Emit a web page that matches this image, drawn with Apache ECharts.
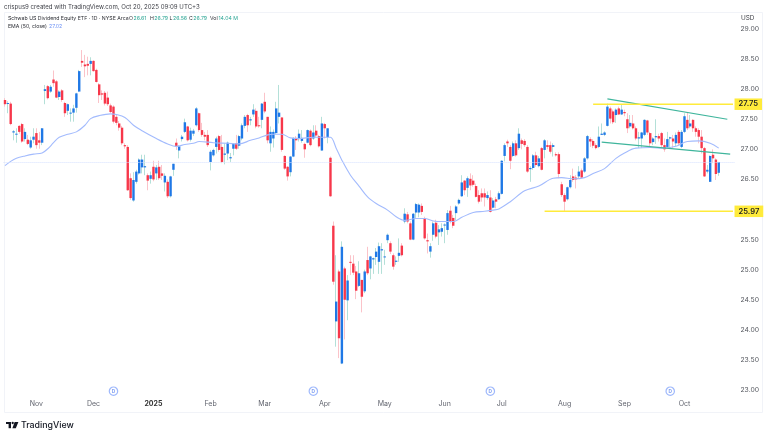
<!DOCTYPE html>
<html>
<head>
<meta charset="utf-8">
<title>Schwab US Dividend Equity ETF</title>
<style>html,body{margin:0;padding:0;background:#fff}#chart{width:768px;height:438px}</style>
<script src="https://cdn.jsdelivr.net/npm/echarts@6/dist/echarts.min.js"></script>
</head>
<body>
<div id="chart"></div>
<script>
// Daily bars, one row per session: [open, close, low, high]
const ohlc = [
[27.82,27.75,27.71,27.85],[27.76,27.77,27.60,27.80],[27.76,27.42,27.40,27.79],[27.28,27.30,27.15,27.32],[27.25,27.26,27.11,27.35],
[27.39,27.29,27.26,27.40],[27.42,27.13,27.11,27.44],[27.17,27.29,27.13,27.35],[27.16,27.09,27.07,27.24],[27.03,27.15,27.01,27.21],
[27.16,27.21,27.10,27.35],[27.27,27.07,27.01,27.35],[27.15,27.11,27.01,27.29],[27.11,27.35,27.07,27.35],[27.97,28.00,27.75,28.07],
[28.05,27.85,27.83,28.07],[27.96,28.04,27.94,28.07],[28.16,28.10,28.04,28.31],[28.13,27.86,27.85,28.15],[27.87,27.96,27.82,27.98],
[27.98,27.82,27.79,28.00],[27.77,27.60,27.54,27.79],[27.64,27.75,27.57,27.76],[27.60,27.61,27.46,27.68],[27.61,27.68,27.46,27.74],
[27.69,27.93,27.61,27.94],[27.96,28.30,27.96,28.32],[28.47,28.44,28.37,28.65],[28.41,28.38,28.20,28.57],[28.42,28.39,28.23,28.54],
[28.42,28.47,28.23,28.53],[28.47,28.30,28.29,28.48],[28.32,28.12,28.11,28.34],[28.08,27.90,27.77,28.10],[27.93,27.91,27.82,27.98],
[27.94,27.76,27.73,27.97],[27.86,27.75,27.72,27.96],[27.73,27.62,27.60,27.76],[27.71,27.46,27.43,27.73],[27.54,27.44,27.40,27.57],
[27.43,27.36,27.31,27.47],[27.36,27.10,27.07,27.39],[27.07,27.05,27.01,27.10],[27.04,26.32,26.31,27.07],[26.52,26.19,26.16,26.60],
[26.15,26.49,26.13,26.62],[26.46,26.63,26.43,26.66],[26.60,26.83,26.58,26.85],[26.70,26.83,26.60,26.91],[26.70,26.72,26.57,26.91],
[26.57,26.48,26.32,26.60],[26.51,26.57,26.43,26.63],[26.71,26.50,26.47,26.81],[26.60,26.70,26.49,26.74],[26.71,26.52,26.49,26.81],
[26.60,26.56,26.49,26.74],[26.45,26.56,26.30,26.60],[26.46,26.22,26.19,26.50],[26.22,26.55,26.20,26.56],[26.66,26.76,26.56,26.76],
[27.11,27.05,26.99,27.18],[26.98,27.05,26.85,27.07],[27.17,27.21,27.13,27.24],[27.29,27.45,27.27,27.51],[27.38,27.15,27.13,27.39],
[27.16,27.31,27.13,27.36],[27.26,27.31,27.22,27.34],[27.40,27.68,27.38,27.70],[27.60,27.32,27.29,27.61],[27.32,27.24,27.21,27.44],
[27.24,27.21,27.15,27.29],[27.24,27.07,27.04,27.32],[26.79,26.96,26.65,26.99],[26.90,26.99,26.88,27.01],[27.04,27.18,26.93,27.21],
[27.22,26.99,26.96,27.24],[27.04,26.79,26.77,27.24],[26.91,26.93,26.75,27.10],[26.93,27.11,26.82,27.13],[26.85,26.87,26.79,26.94],
[27.01,27.09,26.90,27.10],[27.10,27.01,26.99,27.24],[27.06,27.22,27.01,27.24],[27.18,27.40,27.15,27.43],[27.39,27.54,27.35,27.57],
[27.57,27.40,27.29,27.59],[27.48,27.50,27.40,27.54],[27.58,27.66,27.54,27.75],[27.64,27.38,27.35,27.68],[27.40,27.39,27.36,27.54],
[27.49,27.76,27.35,27.77],[27.79,27.63,27.60,27.94],[27.54,27.15,27.10,27.54],[27.10,27.29,26.96,27.38],[27.18,27.29,27.03,27.33],
[27.27,27.68,27.25,27.79],[27.54,27.61,27.43,28.07],[27.53,26.99,26.96,27.53],[26.89,26.68,26.66,26.90],[26.71,26.55,26.48,26.72],
[26.62,26.88,26.55,26.89],[26.88,27.19,26.87,27.20],[27.19,27.15,26.99,27.22],[27.17,27.26,27.13,27.33],[27.14,27.19,27.11,27.32],
[27.09,27.00,26.86,27.11],[27.11,27.32,27.10,27.33],[27.31,27.07,27.05,27.33],[27.18,27.28,27.16,27.40],[27.31,27.23,27.20,27.40],
[27.22,27.05,27.03,27.24],[26.98,27.43,26.98,27.54],[27.42,27.35,27.18,27.44],[27.20,27.35,27.10,27.35],[26.86,26.22,26.21,26.88],
[25.73,24.80,24.75,25.80],[24.14,24.47,23.72,25.24],[24.97,23.86,23.53,25.00],[23.44,25.38,23.43,25.47],[25.02,24.50,23.84,25.05],
[24.49,24.82,24.16,24.91],[25.13,25.12,24.91,25.24],[25.10,24.95,24.91,25.24],[24.97,24.65,24.51,25.06],[24.73,24.94,24.71,25.14],
[24.83,24.55,24.29,24.83],[24.64,24.97,24.61,25.00],[25.16,24.94,24.91,25.38],[25.02,25.22,24.84,25.23],[25.17,25.19,24.93,25.20],
[25.21,25.30,25.08,25.36],[25.13,25.39,24.93,25.45],[25.32,25.34,24.93,25.44],[25.21,25.22,25.08,25.33],[25.49,25.58,25.44,25.60],
[25.44,25.30,25.26,25.47],[25.24,25.05,25.00,25.27],[25.13,25.15,25.08,25.22],[25.23,25.28,25.13,25.52],[25.40,25.24,25.22,25.44],
[25.80,25.93,25.77,26.02],[25.92,25.80,25.77,25.96],[25.77,25.50,25.49,25.80],[25.50,25.93,25.49,25.94],[25.95,26.09,25.85,26.11],
[25.95,26.08,25.87,26.10],[26.06,25.96,25.91,26.10],[25.85,25.52,25.50,25.88],[25.49,25.47,25.27,25.60],[25.30,25.39,25.20,25.44],
[25.58,25.77,25.48,25.80],[25.78,25.55,25.52,25.83],[25.62,25.67,25.41,25.74],[25.63,25.69,25.55,25.77],[25.74,25.75,25.44,25.77],
[25.66,25.94,25.58,25.99],[25.98,25.80,25.77,26.06],[25.86,25.73,25.69,25.91],[25.94,26.05,25.82,26.07],[26.10,26.16,26.08,26.18],
[26.22,26.45,26.21,26.57],[26.48,26.32,26.24,26.49],[26.36,26.52,26.21,26.55],[26.51,26.40,26.32,26.60],[26.48,26.41,26.38,26.57],
[26.39,26.21,26.20,26.43],[26.24,26.13,26.10,26.32],[26.27,26.20,26.13,26.35],[26.27,26.20,26.05,26.35],[26.19,26.24,26.16,26.30],
[26.20,25.96,25.95,26.32],[26.03,26.15,26.02,26.19],[26.17,26.13,26.02,26.21],[26.17,26.27,26.16,26.30],[26.26,26.81,26.25,26.82],
[26.89,27.07,26.80,27.10],[27.13,27.10,27.04,27.16],[27.04,26.81,26.67,27.07],[26.89,27.10,26.87,27.13],[27.10,26.90,26.88,27.15],
[27.02,27.26,26.99,27.35],[27.15,27.09,27.00,27.18],[27.14,27.07,27.04,27.17],[27.04,26.63,26.61,27.07],[26.67,26.69,26.46,26.72],
[26.69,26.90,26.66,26.92],[26.90,26.74,26.71,26.96],[26.72,26.85,26.70,26.89],[27.02,26.66,26.65,27.04],[26.99,27.15,26.85,27.17],
[27.07,27.04,27.00,27.15],[27.07,26.96,26.93,27.13],[27.04,27.07,26.88,27.10],[26.92,26.90,26.88,26.95],[26.92,26.59,26.52,26.95],
[26.42,26.24,26.21,26.46],[26.24,26.13,25.97,26.27],[26.17,26.37,26.15,26.38],[26.37,26.49,26.35,26.57],[26.55,26.49,26.46,26.68],
[26.53,26.50,26.35,26.57],[26.55,26.63,26.52,26.72],[26.65,26.53,26.52,26.68],[26.63,26.85,26.61,26.87],[26.85,27.22,26.83,27.24],
[27.17,27.13,27.04,27.20],[27.14,27.06,27.02,27.17],[27.07,27.02,27.00,27.10],[27.04,27.21,27.02,27.38],[27.24,27.26,27.24,27.43],
[27.24,27.28,27.22,27.30],[27.39,27.71,27.38,27.76],[27.68,27.51,27.43,27.71],[27.63,27.45,27.42,27.66],[27.57,27.66,27.44,27.68],
[27.68,27.58,27.57,27.71],[27.58,27.66,27.57,27.74],[27.62,27.60,27.55,27.66],[27.50,27.35,27.27,27.60],[27.38,27.44,27.35,27.57],
[27.43,27.35,27.33,27.57],[27.35,27.18,27.15,27.38],[27.18,27.20,27.02,27.29],[27.18,27.28,27.02,27.29],[27.24,27.49,27.22,27.50],
[27.48,27.28,27.24,27.49],[27.27,27.10,27.04,27.29],[27.12,27.18,27.07,27.20],[27.20,27.22,27.09,27.50],[27.22,27.18,27.13,27.26],
[27.27,27.07,27.04,27.29],[27.07,27.00,26.96,27.18],[27.04,27.17,27.02,27.29],[27.18,27.20,27.04,27.21],[27.18,27.13,27.02,27.24],
[27.10,27.24,27.05,27.28],[27.29,27.10,27.07,27.32],[27.04,27.29,27.02,27.32],[27.29,27.55,27.27,27.60],[27.49,27.35,27.32,27.61],
[27.38,27.43,27.35,27.57],[27.49,27.35,27.29,27.50],[27.35,27.29,27.21,27.38],[27.32,27.21,27.10,27.35],[27.21,27.02,26.93,27.32],
[27.02,26.55,26.54,27.04],[26.63,26.66,26.60,26.74],[26.46,26.89,26.46,26.90],[26.91,26.85,26.77,27.00],[26.83,26.59,26.49,26.85],
[26.61,26.79,26.56,26.79]
];

// Session slots on the time axis; the last few stay empty as right-hand margin
const sessionSlots = Array.from({length: 256}, (_, i) => String(i));
const monthStarts = [11, 31, 52, 72, 91, 112, 133, 154, 174, 196, 217, 238];
const monthLabels = ['Nov', 'Dec', '2025', 'Feb', 'Mar', 'Apr', 'May', 'Jun', 'Jul', 'Aug', 'Sep', 'Oct'];
const priceTicks = {min: 23, max: 29, step: 0.5};

// EMA(50) as [session, value]
const ema50 = [
[0,26.73],[2,26.80],[4,26.85],[7,26.89],[10,26.92],[13,26.94],[15,27.01],[17,27.11],[19,27.20],[22,27.25],
[25,27.29],[28,27.40],[30,27.51],[33,27.56],[37,27.59],[39,27.58],[42,27.53],[45,27.40],[48,27.31],[53,27.18],
[57,27.09],[60,27.05],[63,27.08],[66,27.10],[68,27.13],[73,27.11],[78,27.10],[82,27.09],[86,27.15],[89,27.19],
[92,27.24],[94,27.25],[97,27.25],[100,27.19],[103,27.18],[108,27.20],[112,27.20],[114,27.20],[116,27.02],[118,26.82],
[121,26.57],[124,26.39],[127,26.21],[130,26.10],[134,25.99],[137,25.88],[140,25.82],[144,25.85],[147,25.85],[150,25.81],
[153,25.80],[157,25.80],[160,25.87],[164,25.95],[168,25.97],[171,25.99],[173,26.01],[177,26.13],[182,26.31],[187,26.39],
[192,26.52],[195,26.53],[199,26.51],[203,26.53],[206,26.60],[210,26.68],[214,26.85],[217,26.94],[221,27.02],[226,27.03],
[231,27.02],[235,27.05],[239,27.13],[243,27.14],[247,27.10],[250,27.02]
];

// Hand-drawn studies on the chart
const channelUpper = [[211, 27.84], [253, 27.50]];
const channelLower = [[209, 27.12], [254, 26.92]];
const resistance = [[206, 27.75], [255, 27.75]];
const support = [[189, 25.97], [255, 25.97]];
const dividendSessions = [38, 108, 170, 233];

const quote = {open: '26.61', high: '26.79', low: '26.56', close: '26.79', vol: '14.04', emaNow: '27.02'};

const UI_FONT = 'Inter, Roboto, "Liberation Sans", sans-serif';
const UP = '#1f78e6', DOWN = '#f7374a', WICK_UP = '#b4e0d8', WICK_DOWN = '#fbc3c9';
const TEAL = '#2aa594', GOLD = '#ffeb3b', CHANNEL = '#3fb59c', EMA_BLUE = '#a3bbfd';
const BODY_WIDTH = 2.4;

function label(x, y, text, color, size) {
  return {type: 'text', x, y, silent: true,
    style: {text, fill: color, font: (size || 5.2) + 'px ' + UI_FONT, textVerticalAlign: 'middle'}};
}

function levelLine(data) {
  return {
    type: 'line', data, symbol: 'none', z: 6, animation: false,
    lineStyle: {color: GOLD, width: 1.4}, itemStyle: {color: GOLD},
    endLabel: {
      show: true, distance: 1.5, color: '#222', fontFamily: UI_FONT, fontSize: 7.6, fontWeight: 600,
      backgroundColor: GOLD, padding: [2, 4, 1.5, 4],
      formatter: p => p.value[1].toFixed(2)
    }
  };
}

// Open-to-close body of one session, left unsnapped so the spacing stays even
function renderBody(params, api) {
  const cx = api.coord([api.value(0), 0])[0];
  const a = api.coord([api.value(0), api.value(1)])[1];
  const b = api.coord([api.value(0), api.value(2)])[1];
  return {
    type: 'rect',
    shape: {x: cx - BODY_WIDTH / 2, y: Math.min(a, b), width: BODY_WIDTH, height: Math.max(Math.abs(a - b), 1)},
    style: {fill: api.value(2) >= api.value(1) ? UP : DOWN}
  };
}

const chart = echarts.init(document.getElementById('chart'), null, {renderer: 'canvas'});
chart.setOption({
  animation: false,
  backgroundColor: '#fff',
  grid: {left: 3.57, width: 730.88, top: 29, height: 361},
  xAxis: {
    type: 'category', data: sessionSlots, boundaryGap: true,
    axisLine: {show: false}, axisTick: {show: false}, splitLine: {show: false},
    axisLabel: {
      interval: i => monthStarts.includes(i), margin: 10,
      color: '#62656f', fontFamily: UI_FONT, fontSize: 7,
      formatter: (v, i) => {
        const k = monthStarts.indexOf(i);
        if (k < 0) return '';
        return monthLabels[k] === '2025' ? '{y|2025}' : monthLabels[k];
      },
      rich: {y: {fontFamily: UI_FONT, fontSize: 7, fontWeight: 700, color: '#333'}}
    }
  },
  yAxis: {
    type: 'value', position: 'right', min: priceTicks.min, max: priceTicks.max, interval: priceTicks.step,
    axisLine: {show: false}, axisTick: {show: false}, splitLine: {show: false},
    axisLabel: {margin: 6, color: '#55585f', fontFamily: UI_FONT, fontSize: 6.8, formatter: v => v.toFixed(2)}
  },
  series: [
    {
      // Full range of each session in the pale wick colours
      type: 'candlestick', data: ohlc, barWidth: 1, z: 2,
      itemStyle: {color: WICK_UP, color0: WICK_DOWN, borderColor: WICK_UP, borderColor0: WICK_DOWN, borderWidth: 1},
      markLine: {
        silent: true, symbol: 'none', label: {show: false}, animation: false,
        lineStyle: {color: '#d6e1ff', type: [1, 1], width: 1},
        data: [{yAxis: ohlc[ohlc.length - 1][1]}]
      }
    },
    {
      type: 'custom', z: 3, renderItem: renderBody, clip: false,
      encode: {x: 0, y: [1, 2]},
      data: ohlc.map((r, i) => [i, r[0], r[1]])
    },
    {type: 'line', data: ema50, symbol: 'none', smooth: 0.35, z: 4, lineStyle: {color: EMA_BLUE, width: 1.1}},
    {type: 'line', data: channelUpper, symbol: 'none', z: 5, lineStyle: {color: CHANNEL, width: 1.2}},
    {type: 'line', data: channelLower, symbol: 'none', z: 5, lineStyle: {color: CHANNEL, width: 1.2}},
    levelLine(resistance),
    levelLine(support),
    {
      // Dividend flags along the bottom of the pane
      type: 'scatter', z: 7, symbol: 'circle', symbolSize: 8.4, clip: false,
      data: dividendSessions.map(s => [s, 22.98]),
      itemStyle: {color: '#fff', borderColor: '#86a6fb', borderWidth: 1.2},
      label: {show: true, position: 'inside', formatter: 'D', color: '#5f86ef', fontSize: 4.8, fontWeight: 700, fontFamily: UI_FONT}
    }
  ],
  graphic: [
    {type: 'rect', silent: true, z: -1, shape: {x: 4.5, y: 12.5, width: 758, height: 400},
      style: {fill: 'none', stroke: '#f1f3f8', lineWidth: 1}},
    label(4, 7, 'crispus9 created with TradingView.com, Oct 20, 2025 09:09 UTC+3', '#3d3f46', 6.1),
    label(8, 18.5, 'Schwab US Dividend Equity ETF · 1D · NYSE Arca', '#2c2e35'),
    label(129, 18.5, 'O', '#2c2e35'), label(133.5, 18.5, quote.open, TEAL),
    label(150, 18.5, 'H', '#2c2e35'), label(154.3, 18.5, quote.high, TEAL),
    label(169.5, 18.5, 'L', '#2c2e35'), label(173, 18.5, quote.low, TEAL),
    label(189, 18.5, 'C', '#2c2e35'), label(193.3, 18.5, quote.close, TEAL),
    label(210, 18.5, 'Vol', '#2c2e35'), label(218.5, 18.5, quote.vol + ' M', TEAL),
    label(8, 26, 'EMA (50, close)', '#2c2e35'), label(49, 26, quote.emaNow, '#6f93f5'),
    label(741, 18.5, 'USD', '#3d3f46', 6.4),
    // TradingView wordmark
    {type: 'rect', silent: true, shape: {x: 6, y: 422, width: 5, height: 2}, style: {fill: '#131722'}},
    {type: 'rect', silent: true, shape: {x: 8.6, y: 424, width: 2.4, height: 4.2}, style: {fill: '#131722'}},
    {type: 'circle', silent: true, shape: {cx: 12.7, cy: 423, r: 1.15}, style: {fill: '#131722'}},
    {type: 'polygon', silent: true, shape: {points: [[14.6, 422], [18.4, 422], [15.8, 428.2], [12.4, 428.2]]}, style: {fill: '#131722'}},
    {type: 'text', x: 21, y: 425, silent: true,
      style: {text: 'TradingView', fill: '#131722', font: '500 8.8px ' + UI_FONT, textVerticalAlign: 'middle'}}
  ]
});
</script>
</body>
</html>
